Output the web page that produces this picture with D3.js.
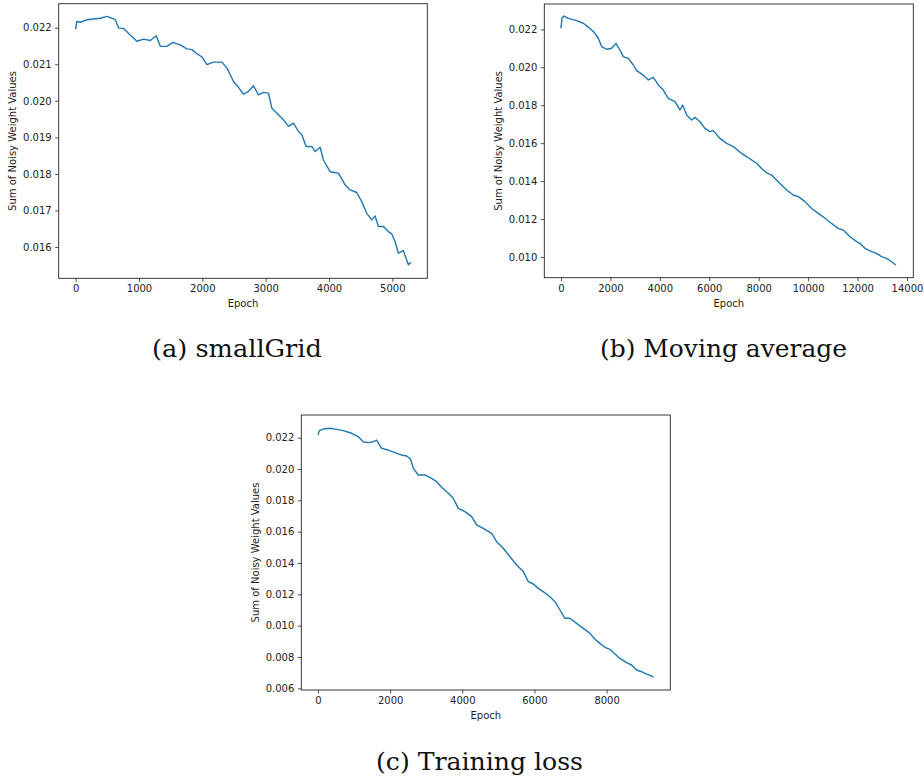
<!DOCTYPE html>
<html>
<head>
<meta charset="utf-8">
<script src="https://cdn.jsdelivr.net/npm/d3@7"></script>
<style>
  body { margin: 0; background: #fff; }
  .tick text { font-family: "DejaVu Sans", sans-serif; font-size: 10px; fill: #222; }
  .axis_text { font-family: "DejaVu Sans", sans-serif; font-size: 10px; fill: #222; }
  .caption { font-family: "DejaVu Serif", "Liberation Serif", serif; font-size: 24px; fill: #111; }
</style>
</head>
<body>
<script>

// (a) smallGrid
var epochsA = [0, 16, 74, 179, 389, 494, 626, 678, 757, 836, 967, 1073, 1178, 1272, 1336, 1441,
  1535, 1651, 1756, 1835, 1914, 1993, 2072, 2177, 2308, 2387, 2492, 2571, 2650, 2729, 2808,
  2887, 2966, 3044, 3097, 3202, 3281, 3360, 3439, 3518, 3570, 3639, 3728, 3781, 3860, 3912,
  4017, 4149, 4254, 4333, 4438, 4517, 4596, 4675, 4727, 4780, 4859, 4937, 4990, 5042, 5095,
  5174, 5216, 5253, 5295];
var valuesA = [0.02196, 0.02217, 0.02215, 0.02222, 0.02226, 0.02231, 0.02222, 0.02199, 0.02198,
  0.02184, 0.02163, 0.02169, 0.02165, 0.02178, 0.02149, 0.02149, 0.02160, 0.02153, 0.02142,
  0.02140, 0.02129, 0.02120, 0.02099, 0.02106, 0.02106, 0.02090, 0.02053, 0.02037, 0.02018,
  0.02026, 0.02041, 0.02016, 0.02023, 0.02021, 0.01980, 0.01962, 0.01948, 0.01930, 0.01939,
  0.01916, 0.01907, 0.01875, 0.01875, 0.01861, 0.01873, 0.01838, 0.01806, 0.01802, 0.01770,
  0.01756, 0.01749, 0.01724, 0.01692, 0.01674, 0.01685, 0.01656, 0.01656, 0.01642, 0.01636,
  0.01615, 0.01583, 0.01590, 0.01569, 0.01551, 0.01558];
var xTicksA = [0, 1000, 2000, 3000, 4000, 5000];
var yTicksA = [0.016, 0.017, 0.018, 0.019, 0.020, 0.021, 0.022];
var xDomainA = [-268, 5552];
var yDomainA = [0.015142, 0.022658];

// (b) Moving average
var epochsB = [0, 40, 121, 297, 634, 904, 1173, 1308, 1376, 1511, 1645, 1848, 2050, 2225, 2387,
  2522, 2724, 2927, 3062, 3331, 3534, 3736, 3938, 4140, 4343, 4613, 4815, 4923, 5085, 5287,
  5422, 5624, 5826, 6029, 6164, 6433, 6703, 6973, 7310, 7512, 7917, 8119, 8321, 8524, 8861,
  9131, 9400, 9603, 9873, 10142, 10412, 10682, 10951, 11221, 11423, 11693, 11963, 12098,
  12300, 12570, 12772, 12974, 13177, 13379, 13554];
var valuesB = [0.02205, 0.02258, 0.02270, 0.02258, 0.02246, 0.02232, 0.02205, 0.02188, 0.02179,
  0.02153, 0.02109, 0.02095, 0.02100, 0.02126, 0.02091, 0.02056, 0.02047, 0.02012, 0.01982,
  0.01959, 0.01933, 0.01947, 0.01907, 0.01880, 0.01836, 0.01819, 0.01775, 0.01801, 0.01748,
  0.01722, 0.01736, 0.01713, 0.01678, 0.01661, 0.01666, 0.01625, 0.01599, 0.01582, 0.01546,
  0.01529, 0.01494, 0.01467, 0.01444, 0.01432, 0.01388, 0.01353, 0.01327, 0.01318, 0.01292,
  0.01256, 0.01230, 0.01204, 0.01177, 0.01151, 0.01142, 0.01107, 0.01081, 0.01072, 0.01046,
  0.01028, 0.01019, 0.01002, 0.00993, 0.00975, 0.00958];
var xTicksB = [0, 2000, 4000, 6000, 8000, 10000, 12000, 14000];
var yTicksB = [0.010, 0.012, 0.014, 0.016, 0.018, 0.020, 0.022];
var xDomainB = [-674, 14256];
var yDomainB = [0.008910, 0.023335];

// (c) Training loss
var epochsC = [0, 37, 148, 333, 517, 702, 933, 1118, 1256, 1395, 1533, 1626, 1764, 1949, 2134,
  2319, 2457, 2568, 2642, 2781, 2965, 3150, 3289, 3427, 3612, 3751, 3889, 4074, 4259, 4397,
  4582, 4813, 4952, 5136, 5321, 5506, 5691, 5829, 5968, 6106, 6245, 6430, 6568, 6707, 6845,
  6984, 7169, 7354, 7539, 7677, 7815, 7954, 8092, 8231, 8370, 8554, 8693, 8831, 8970, 9109,
  9248, 9294];
var valuesC = [0.02217, 0.02245, 0.02255, 0.02260, 0.02253, 0.02245, 0.02228, 0.02206, 0.02174,
  0.02168, 0.02174, 0.02185, 0.02132, 0.02121, 0.02104, 0.02089, 0.02083, 0.02062, 0.02004,
  0.01962, 0.01962, 0.01940, 0.01919, 0.01883, 0.01845, 0.01813, 0.01749, 0.01728, 0.01696,
  0.01643, 0.01621, 0.01589, 0.01536, 0.01494, 0.01440, 0.01387, 0.01345, 0.01281, 0.01266,
  0.01238, 0.01217, 0.01185, 0.01153, 0.01100, 0.01047, 0.01047, 0.01015, 0.00983, 0.00951,
  0.00913, 0.00887, 0.00862, 0.00849, 0.00819, 0.00791, 0.00764, 0.00749, 0.00717, 0.00706,
  0.00691, 0.00679, 0.00670];
var xTicksC = [0, 2000, 4000, 6000, 8000];
var yTicksC = [0.006, 0.008, 0.010, 0.012, 0.014, 0.016, 0.018, 0.020, 0.022];
var xDomainC = [-462, 9765];
var yDomainC = [0.005894, 0.023447];

var w = 924;
var h = 780;

var svg = d3.select("body")
            .append("svg")
            .attr("width", w)
            .attr("height", h);

// draw one matplotlib-like panel
function draw_panel(box, epochs, values, xTicks, yTicks, xDomain, yDomain, showEpoch) {

  var xScale = d3.scaleLinear()
                 .domain(xDomain)
                 .range([box.left, box.right]);

  var yScale = d3.scaleLinear()
                 .domain(yDomain)
                 .range([box.bottom, box.top]);

  var g = svg.append("g");

  // the data line
  var line = d3.line()
               .x(function(d) { return xScale(d[0]); })
               .y(function(d) { return yScale(d[1]); });

  var data = epochs.map(function(e, i) { return [e, values[i]]; });

  g.append("path")
   .datum(data)
   .attr("d", line)
   .style("fill", "none")
   .style("stroke", "#1f77b4")
   .style("stroke-width", 1.4)
   .style("stroke-linejoin", "round");

  // x-axis
  var xAxis = g.append("g")
               .attr("transform", "translate(0," + box.bottom + ")")
               .call(d3.axisBottom(xScale).tickValues(xTicks).tickSize(3.5).tickPadding(3.5)
                       .tickFormat(d3.format("d")));

  // y-axis
  var yAxis = g.append("g")
               .attr("transform", "translate(" + box.left + ",0)")
               .call(d3.axisLeft(yScale).tickValues(yTicks).tickSize(3.5).tickPadding(3.5)
                       .tickFormat(d3.format(".3f")));

  [xAxis, yAxis].forEach(function(a) {
    a.select(".domain").remove();
    a.selectAll(".tick line").style("stroke", "#222").style("stroke-width", 0.8);
  });

  // frame
  g.append("rect")
   .attr("x", box.left)
   .attr("y", box.top)
   .attr("width", box.right - box.left)
   .attr("height", box.bottom - box.top)
   .style("fill", "none")
   .style("stroke", "#222")
   .style("stroke-width", 0.9);

  // label x-axis
  if (showEpoch) {
    g.append("text")
     .attr("class", "axis_text")
     .attr("x", (box.left + box.right) / 2)
     .attr("y", box.bottom + 29)
     .style("text-anchor", "middle")
     .text("Epoch");
  }

  // label y-axis
  g.append("text")
   .attr("class", "axis_text")
   .attr("transform", "translate(" + (box.left - 42.5) + "," + ((box.top + box.bottom) / 2) + ") rotate(-90)")
   .style("text-anchor", "middle")
   .text("Sum of Noisy Weight Values");
}

draw_panel({left: 58.7, right: 427.3, top: 3.7, bottom: 278.3},
           epochsA, valuesA, xTicksA, yTicksA, xDomainA, yDomainA, true);
draw_panel({left: 544.3, right: 913.3, top: 4, bottom: 277.7},
           epochsB, valuesB, xTicksB, yTicksB, xDomainB, yDomainB, true);
draw_panel({left: 301.3, right: 670.3, top: 415, bottom: 690},
           epochsC, valuesC, xTicksC, yTicksC, xDomainC, yDomainC, true);

// captions (Computer Modern is not installed, so fit a serif to the same width)
var captions = ["(a) smallGrid", "(b) Moving average", "(c) Training loss"];
var capX = [237, 723.5, 479.5];
var capY = [357, 357, 770];
var capW = [170, 247, 207];

svg.selectAll(".caption")
   .data(captions)
   .enter().append("text")
   .attr("class", "caption")
   .attr("x", function(d, i) { return capX[i]; })
   .attr("y", function(d, i) { return capY[i]; })
   .attr("textLength", function(d, i) { return capW[i]; })
   .attr("lengthAdjust", "spacingAndGlyphs")
   .style("text-anchor", "middle")
   .text(function(d) { return d; });

</script>
</body>
</html>
